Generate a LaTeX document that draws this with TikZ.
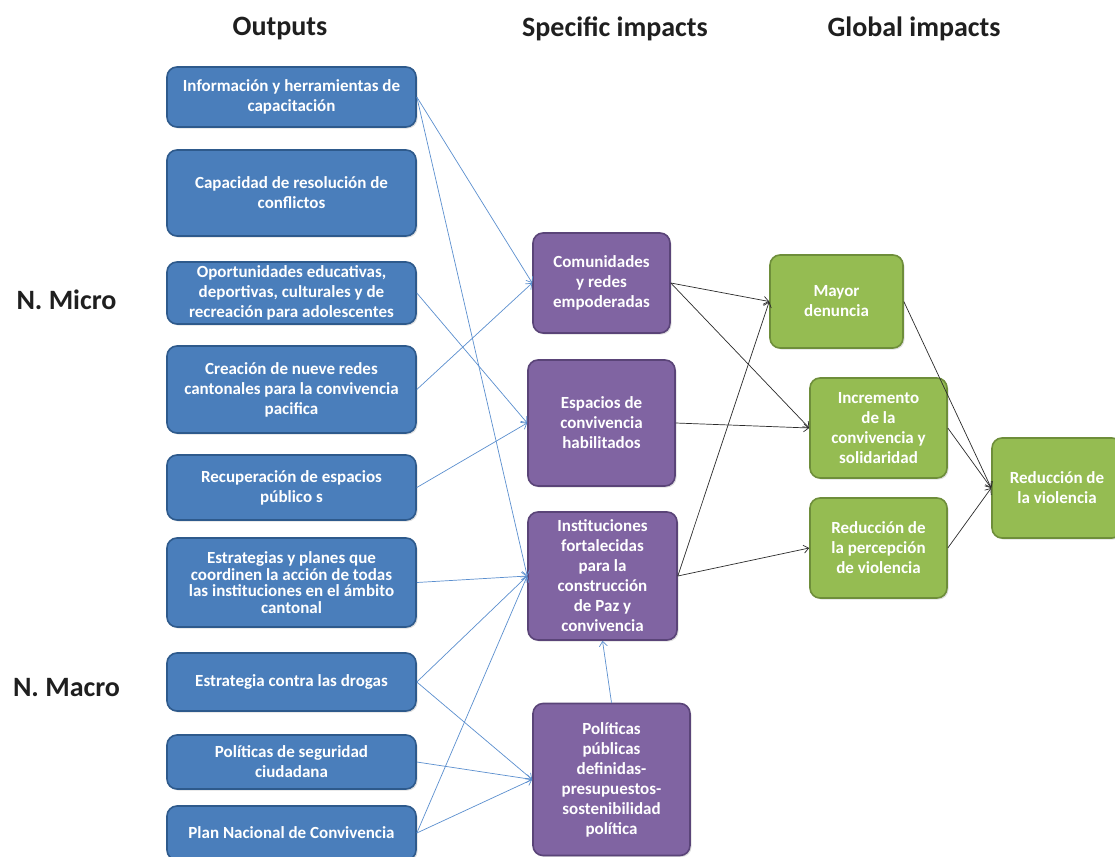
\documentclass[tikz,border=0pt]{standalone}
\usepackage{fontspec}
\setmainfont{Carlito}
\usetikzlibrary{arrows.meta,shadows}
\definecolor{outfill}{HTML}{4A7EBB}
\definecolor{outdraw}{HTML}{2E5A8C}
\definecolor{spfill}{HTML}{8064A2}
\definecolor{spdraw}{HTML}{5A4478}
\definecolor{glfill}{HTML}{95BC52}
\definecolor{gldraw}{HTML}{6E8E3A}
\definecolor{bluelink}{HTML}{5B8FCF}
\definecolor{darklink}{HTML}{2B2B2B}
\tikzset{
  box/.style={rounded corners=10pt, line width=1.6pt, align=center, text=white,
    font=\fontsize{17}{20}\selectfont\bfseries, inner sep=2pt,
    drop shadow={shadow xshift=1.5pt, shadow yshift=-1.5pt, opacity=0.25}},
  outbox/.style={box, fill=outfill, draw=outdraw, minimum width=249pt},
  spbox/.style={box, fill=spfill, draw=spdraw},
  glbox/.style={box, fill=glfill, draw=gldraw},
  header/.style={font=\fontsize{28}{32}\selectfont\bfseries, text=black!88},
  bluearrow/.style={draw=bluelink, line width=0.7pt, -{Straight Barb[length=5pt,width=8pt]}},
  darkarrow/.style={draw=darklink, line width=0.7pt, -{Straight Barb[length=5pt,width=8pt]}},
}
\begin{document}
\begin{tikzpicture}[x=1pt,y=-1pt]
\useasboundingbox (0,0) rectangle (1115,856);
\fill[white] (0,0) rectangle (1115,856);

% column headers and level labels
\node[header] (hout) at (280,29) {Outputs};
\node[header] (hspec) at (615,29) {Specific impacts};
\node[header] (hglob) at (914,29) {Global impacts};
\node[header] (micro) at (66.5,300) {N. Micro};
\node[header] (macro) at (66.5,688) {N. Macro};

% outputs
\node[outbox, minimum height=60pt] (info) at (291.5,97) {Información y herramientas de\\capacitación};
\node[outbox, minimum height=86pt] (capa) at (291.5,193) {Capacidad de resolución de\\conflictos};
\node[outbox, minimum height=62pt] (opor) at (291.5,293) {Oportunidades educativas,\\deportivas, culturales y de\\recreación para adolescentes};
\node[outbox, minimum height=87pt] (crea) at (291.5,389.5) {Creación de nueve redes\\cantonales para la convivencia\\pacifica};
\node[outbox, minimum height=65pt] (recu) at (291.5,487.5) {Recuperación de espacios\\público s};
\node[outbox, minimum height=89pt, font=\fontsize{17}{16.5}\selectfont\bfseries] (estr) at (291.5,582.5) {Estrategias y planes que\\coordinen la acción de todas\\las instituciones en el ámbito\\cantonal};
\node[outbox, minimum height=58pt] (drog) at (291.5,682) {Estrategia contra las drogas};
\node[outbox, minimum height=54pt] (segu) at (291.5,762) {Políticas de seguridad\\ciudadana};
\node[outbox, minimum height=54pt] (plan) at (291.5,833) {Plan Nacional de Convivencia};

% specific impacts
\node[spbox, minimum width=137pt, minimum height=100pt] (comu) at (601.5,283) {Comunidades\\y redes\\empoderadas};
\node[spbox, minimum width=147pt, minimum height=126pt] (espa) at (601.5,423) {Espacios de\\convivencia\\habilitados};
\node[spbox, minimum width=149pt, minimum height=128pt] (inst) at (602.5,576) {Instituciones\\fortalecidas\\para la\\construcción\\de Paz y\\convivencia};
\node[spbox, minimum width=157pt, minimum height=152pt] (poli) at (611.5,779.5) {Políticas\\públicas\\definidas-\\presupuestos-\\sostenibilidad\\política};

% global impacts
\node[glbox, minimum width=133pt, minimum height=93pt] (mayo) at (836.5,301.5) {Mayor\\denuncia};
\node[glbox, minimum width=137pt, minimum height=100pt] (incr) at (878.5,428) {Incremento\\de la\\convivencia y\\solidaridad};
\node[glbox, minimum width=137pt, minimum height=100pt] (perc) at (878.5,548) {Reducción de\\la percepción\\de violencia};
\node[glbox, minimum width=130pt, minimum height=100pt] (viol) at (1057,488) {Reducción de\\la violencia};

% outputs to specific impacts
\draw[bluearrow] (info.east) -- (comu.west);
\draw[bluearrow] (info.east) -- (inst.west);
\draw[bluearrow] (opor.east) -- (espa.west);
\draw[bluearrow] (crea.east) -- (comu.west);
\draw[bluearrow] (recu.east) -- (espa.west);
\draw[bluearrow] (estr.east) -- (inst.west);
\draw[bluearrow] (drog.east) -- (inst.west);
\draw[bluearrow] (drog.east) -- (poli.west);
\draw[bluearrow] (segu.east) -- (poli.west);
\draw[bluearrow] (plan.east) -- (inst.west);
\draw[bluearrow] (plan.east) -- (poli.west);
\draw[bluearrow] (poli.north) -- (inst.south);

% specific impacts to global impacts
\draw[darkarrow] (comu.east) -- (mayo.west);
\draw[darkarrow] (comu.east) -- (incr.west);
\draw[darkarrow] (espa.east) -- (incr.west);
\draw[darkarrow] (inst.east) -- (mayo.west);
\draw[darkarrow] (inst.east) -- (perc.west);
\draw[darkarrow] (mayo.east) -- (viol.west);
\draw[darkarrow] (incr.east) -- (viol.west);
\draw[darkarrow] (perc.east) -- (viol.west);
\end{tikzpicture}
\end{document}
